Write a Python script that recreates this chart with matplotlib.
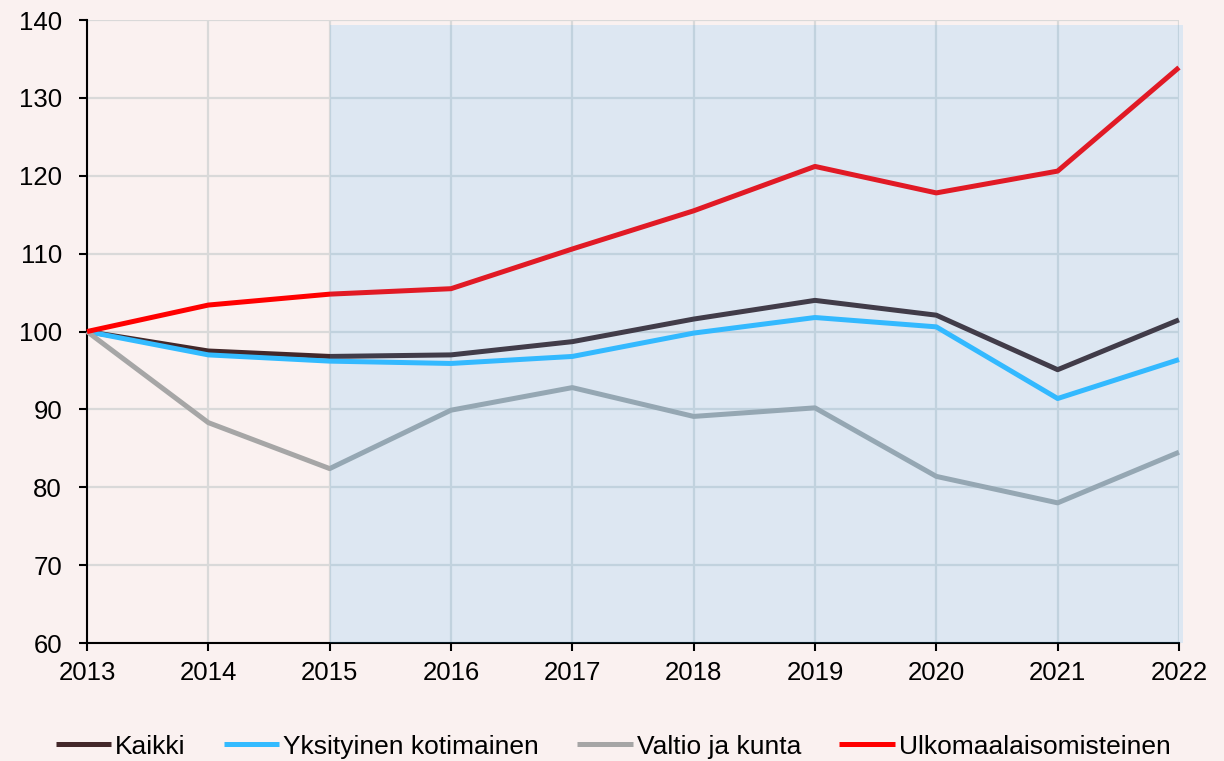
import matplotlib
matplotlib.use("Agg")
import matplotlib.pyplot as plt

years = [2013, 2014, 2015, 2016, 2017, 2018, 2019, 2020, 2021, 2022]
kaikki = [100, 97.5, 96.8, 97.0, 98.7, 101.6, 104.0, 102.1, 95.1, 101.5]
yksityinen = [100, 97.0, 96.2, 95.9, 96.8, 99.8, 101.8, 100.6, 91.4, 96.4]
valtio = [100, 88.3, 82.4, 89.9, 92.8, 89.1, 90.2, 81.4, 78.0, 84.5]
ulkomaalais = [100, 103.4, 104.8, 105.5, 110.6, 115.5, 121.2, 117.8, 120.6, 133.9]

series_labels = ["Kaikki", "Yksityinen kotimainen", "Valtio ja kunta", "Ulkomaalaisomisteinen"]
series_colors = ["#43282A", "#33BBFF", "#A6A6A6", "#FF0000"]
shade_start = 2015

plt.rcParams["font.family"] = ["Liberation Sans", "DejaVu Sans"]
bg = "#FAF1F0"

fig = plt.figure(figsize=(12.24, 7.61), dpi=100, facecolor=bg)
ax = fig.add_axes([0.0711, 0.155, 0.8921, 0.8187])
ax.set_facecolor(bg)

for values, label, color in zip([kaikki, yksityinen, valtio, ulkomaalais],
                                series_labels, series_colors):
    ax.plot(years, values, color=color, lw=3.6, label=label,
            solid_capstyle="butt", zorder=3, clip_on=False)

# translucent forecast band drawn over the lines
ax.axvspan(shade_start, years[-1] + 0.035, ymin=0, ymax=(139.4 - 60) / 80,
           color="#39AFFF", alpha=0.15, lw=0, zorder=4, clip_on=False)

ax.set_xlim(years[0], years[-1])
ax.set_ylim(60, 140)
ax.set_xticks(years)
ax.set_yticks(range(60, 141, 10))
ax.grid(True, color="#D9D9D9", lw=1.6, zorder=1)
ax.set_axisbelow(True)

for side in ["top", "right"]:
    ax.spines[side].set_visible(False)
ax.spines["left"].set_linewidth(1.5)
ax.spines["bottom"].set_linewidth(1.5)
ax.tick_params(axis="both", labelsize=18.5, length=6, width=1.5, direction="out")
ax.tick_params(axis="x", pad=7)
ax.tick_params(axis="y", pad=12)

fig.legend(loc="lower center", bbox_to_anchor=(0.501, -0.028), ncol=4, frameon=False,
           fontsize=19, handlelength=2.1, handletextpad=0.15, columnspacing=1.45)

fig.savefig("out.png", dpi=100, facecolor=bg)
plt.close(fig)
